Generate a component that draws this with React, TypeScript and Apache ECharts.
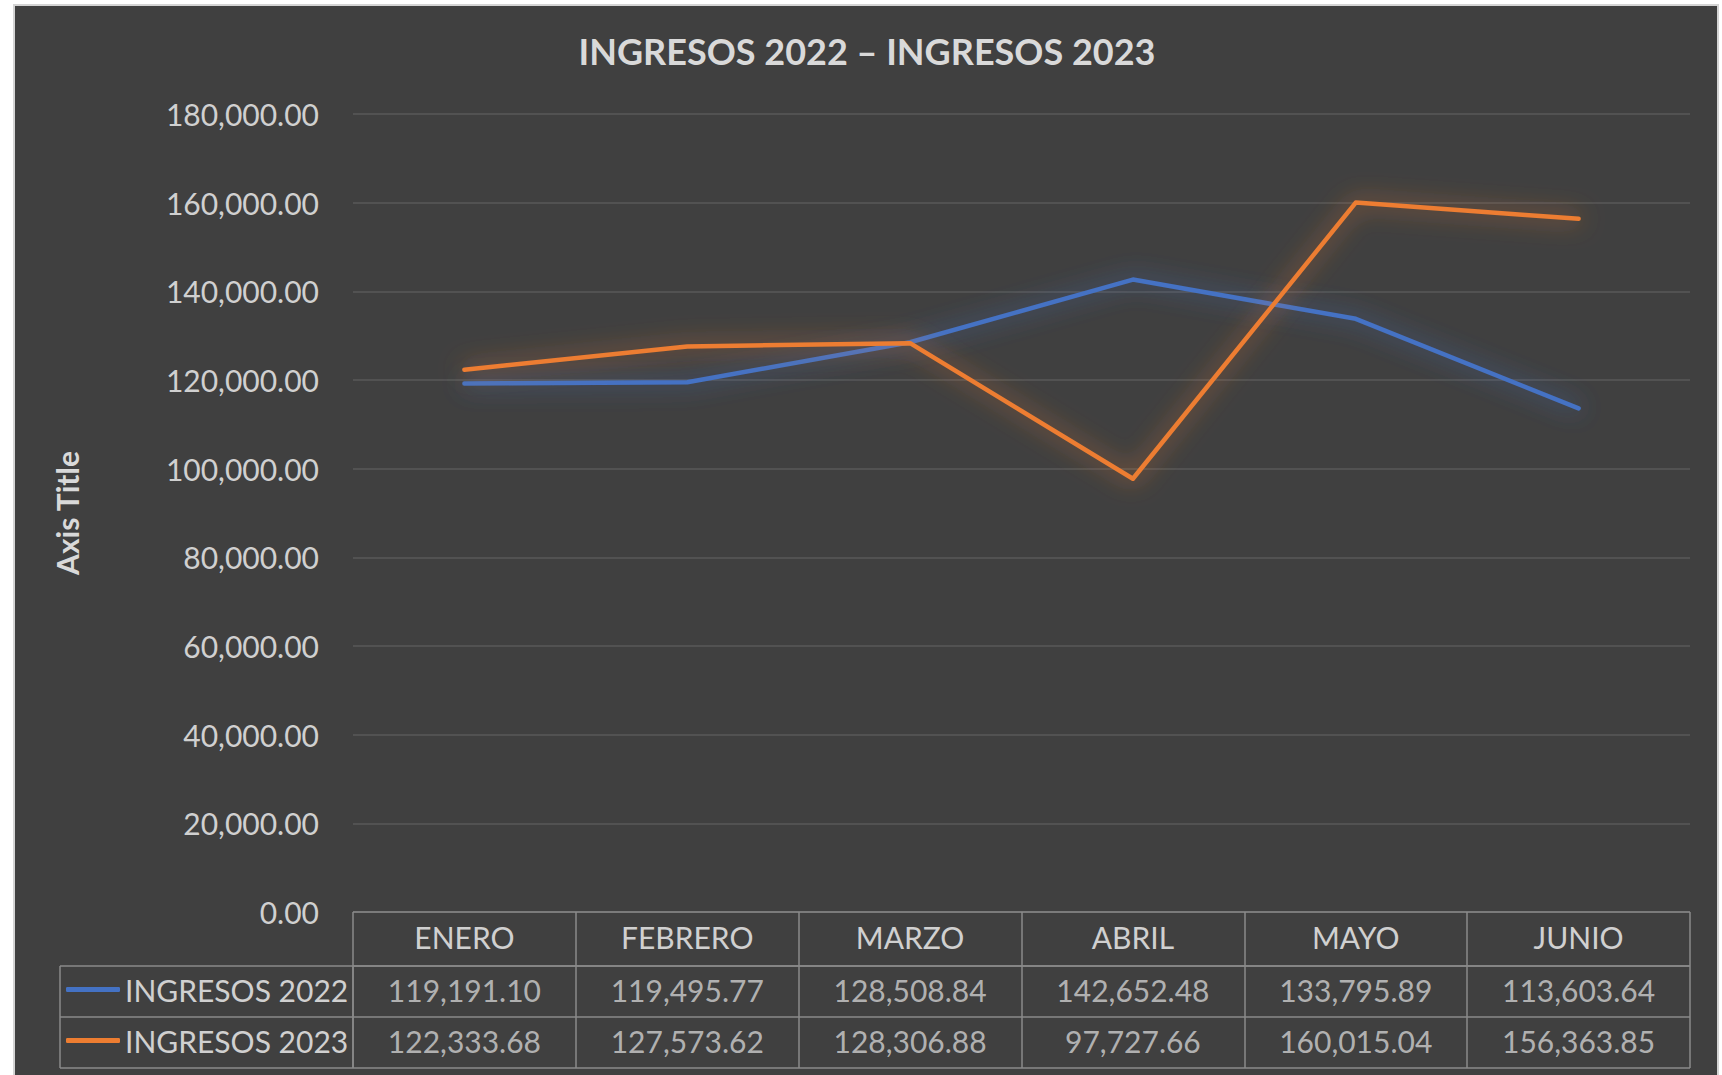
import React, { useEffect, useRef } from "react";
import * as echarts from "echarts";

const categories = ["ENERO", "FEBRERO", "MARZO", "ABRIL", "MAYO", "JUNIO"];
const seriesNames = ["INGRESOS 2022", "INGRESOS 2023"];
const ingresos2022 = [119191.1, 119495.77, 128508.84, 142652.48, 133795.89, 113603.64];
const ingresos2023 = [122333.68, 127573.62, 128306.88, 97727.66, 160015.04, 156363.85];
const yMin = 0;
const yMax = 180000;
const yInterval = 20000;
const chartTitle = "INGRESOS 2022 – INGRESOS 2023";
const axisTitle = "Axis Title";

const FONT = "Lato, 'Noto Sans', sans-serif";
const TEXT = "#d0d0d0";
const BORDER = "#8a8a8a";
const BLUE = "#4472c4";
const ORANGE = "#ed7d31";

const fmt = (v: number) =>
  v.toLocaleString("en-US", { minimumFractionDigits: 2, maximumFractionDigits: 2 });

export default function App() {
  const ref = useRef<HTMLDivElement>(null);
  useEffect(() => {
    document.body.style.margin = "0";
    document.body.style.background = "#ffffff";
    const chart = echarts.init(ref.current!, undefined, { renderer: "svg" });
    const allSeries = [ingresos2022, ingresos2023];
    const tableData: any[] = [];
    allSeries.forEach((arr, r) => arr.forEach((v, i) => tableData.push([i, r, v])));

    const catSplit = {
      show: true,
      interval: 0,
      lineStyle: { color: BORDER, width: 1.5 },
    };
    const hiddenCat = (gridIndex: number, data: string[], extra: any = {}) => ({
      type: "category",
      gridIndex,
      data,
      axisLine: { show: false },
      axisTick: { show: false },
      axisLabel: { show: false },
      splitLine: catSplit,
      ...extra,
    });

    chart.setOption({
      animation: false,
      backgroundColor: "#ffffff",
      textStyle: { fontFamily: FONT },
      graphic: [
        {
          type: "rect",
          z: -10,
          shape: { x: 14, y: 5, width: 1704, height: 1080 },
          style: { fill: "#404040", stroke: "#d4d4d4", lineWidth: 2 },
        },
        {
          type: "text",
          x: 867,
          y: 51,
          style: {
            text: chartTitle,
            fill: "#d9d9d9",
            font: `bold 36px ${FONT}`,
            textAlign: "center",
            textVerticalAlign: "middle",
          },
        },
      ],
      grid: [
        { left: 353, top: 114, width: 1337, height: 798 },
        { left: 353, top: 912, width: 1337, height: 54 },
        { left: 353, top: 966, width: 1337, height: 102 },
        { left: 60, top: 966, width: 293, height: 102 },
      ],
      legend: {
        data: seriesNames,
        orient: "vertical",
        left: 66,
        top: 964,
        padding: 0,
        itemGap: 0,
        itemWidth: 54,
        itemHeight: 5,
        icon: "roundRect",
        textStyle: { fontSize: 30, color: TEXT, fontFamily: FONT, lineHeight: 51 },
        selectedMode: false,
      },
      xAxis: [
        {
          type: "category",
          gridIndex: 0,
          data: categories,
          axisLine: { show: false },
          axisTick: { show: false },
          axisLabel: {
            fontSize: 30,
            color: TEXT,
            fontFamily: FONT,
            margin: 25,
            verticalAlign: "middle",
            interval: 0,
          },
          splitLine: { show: false },
        },
        hiddenCat(1, categories),
        hiddenCat(2, categories),
        hiddenCat(3, [""]),
      ],
      yAxis: [
        {
          type: "value",
          gridIndex: 0,
          min: yMin,
          max: yMax,
          interval: yInterval,
          name: axisTitle,
          nameLocation: "middle",
          nameRotate: 90,
          nameGap: 271,
          nameTextStyle: { fontSize: 30, fontWeight: "bold", color: "#d9d9d9", fontFamily: FONT },
          axisLine: { show: false },
          axisTick: { show: false },
          axisLabel: {
            fontSize: 30,
            color: TEXT,
            fontFamily: FONT,
            margin: 34,
            formatter: (v: number) => fmt(v),
          },
          splitLine: { show: true, lineStyle: { color: "#595959", width: 1.5 } },
        },
        hiddenCat(1, [""]),
        hiddenCat(2, seriesNames, { inverse: true }),
        hiddenCat(3, seriesNames, { inverse: true }),
      ],
      series: [
        {
          name: seriesNames[0],
          type: "line",
          xAxisIndex: 0,
          yAxisIndex: 0,
          data: ingresos2022,
          color: BLUE,
          symbol: "none",
          lineStyle: {
            color: BLUE,
            width: 4.5,
            cap: "round",
            join: "round",
            shadowBlur: 24,
            shadowColor: "rgba(68,114,196,0.85)",
          },
        },
        {
          name: seriesNames[1],
          type: "line",
          xAxisIndex: 0,
          yAxisIndex: 0,
          data: ingresos2023,
          color: ORANGE,
          symbol: "none",
          lineStyle: {
            color: ORANGE,
            width: 4.5,
            cap: "round",
            join: "round",
            shadowBlur: 24,
            shadowColor: "rgba(237,125,49,0.85)",
          },
        },
        {
          type: "scatter",
          xAxisIndex: 2,
          yAxisIndex: 2,
          data: tableData,
          symbolSize: 1,
          silent: true,
          itemStyle: { color: "transparent" },
          label: {
            show: true,
            position: "inside",
            offset: [0, -2],
            fontSize: 30,
            color: TEXT,
            fontFamily: FONT,
            formatter: (p: any) => fmt(p.value[2]),
          },
        },
      ],
    });
    return () => chart.dispose();
  }, []);
  return <div ref={ref} style={{ width: 1722, height: 1075 }} />;
}
